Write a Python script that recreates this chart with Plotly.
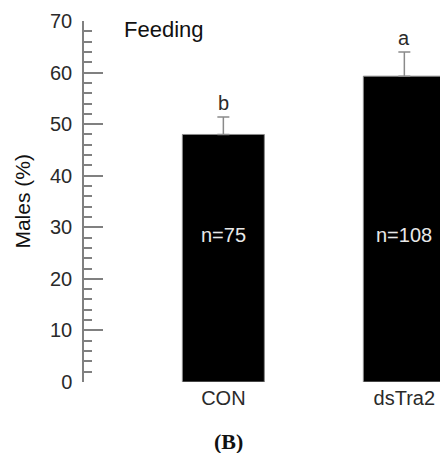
import plotly.graph_objects as go

categories = ["CON", "dsTra2"]
males_pct = [48.0, 59.3]
err_plus = [3.4, 4.7]
sig_letters = ["b", "a"]
n_labels = ["n=75", "n=108"]
y_ticks = [0, 10, 20, 30, 40, 50, 60, 70]

xpos = list(range(len(categories)))
tick_font = dict(family="Liberation Sans, Arial, sans-serif", size=20, color="#2a2a2a")

fig = go.Figure()
fig.add_trace(go.Bar(
    x=xpos, y=males_pct, width=0.453,
    marker=dict(color="black", line=dict(color="#8a8a8a", width=1)),
    error_y=dict(type="data", symmetric=False, array=err_plus,
                 arrayminus=[0] * len(err_plus), color="#8a8a8a",
                 thickness=1.5, width=6),
    showlegend=False,
))

annotations = []
for i, (v, e, s, n) in enumerate(zip(males_pct, err_plus, sig_letters, n_labels)):
    annotations.append(dict(x=i, y=v + e, text=s, showarrow=False, xref="x", yref="y",
                            yanchor="bottom", yshift=1, font=tick_font))
    annotations.append(dict(x=i, y=28.5, text=n, showarrow=False, xref="x", yref="y",
                            yanchor="middle", font=dict(family=tick_font["family"], size=20, color="#e8e8e8")))

annotations.append(dict(x=-0.56, y=68.3, text="Feeding", showarrow=False, xref="x", yref="y",
                        xanchor="left", yanchor="middle",
                        font=dict(family=tick_font["family"], size=22, color="#111111")))
annotations.append(dict(x=-0.174, y=0.5, text="Males (%)", showarrow=False, xref="paper", yref="paper",
                        xanchor="center", yanchor="middle", textangle=-90,
                        font=dict(family=tick_font["family"], size=21, color="#111111")))
annotations.append(dict(x=0.407, y=-0.164, text="<b>(B)</b>", showarrow=False, xref="paper", yref="paper",
                        xanchor="center", yanchor="middle",
                        font=dict(family="Liberation Serif, DejaVu Serif, serif", size=22, color="#111111")))

fig.update_layout(
    width=440, height=453,
    margin=dict(l=84, r=0, t=21, b=71, pad=0),
    paper_bgcolor="white", plot_bgcolor="white",
    annotations=annotations,
    xaxis=dict(range=[-0.770, 1.197], tickvals=xpos, ticktext=categories,
               showline=False, showgrid=False, zeroline=False, ticks="",
               tickfont=tick_font, fixedrange=True, ticklabelstandoff=2),
    yaxis=dict(range=[0, 70], tickvals=y_ticks, showline=True, linecolor="#808080", linewidth=1.5,
               ticks="inside", ticklen=19, tickwidth=1.5, tickcolor="#808080",
               showgrid=False, zeroline=False, tickfont=tick_font, ticklabelstandoff=6,
               minor=dict(dtick=2, ticks="inside", ticklen=8, tickwidth=1.5, tickcolor="#808080",
                          showgrid=False)),
)

fig.write_html("out.html", config={"displayModeBar": False})
with open("out.html", encoding="utf-8") as f:
    html = f.read()
html = html.replace("<head>", "<head><style>html,body{margin:0;padding:0;overflow:hidden;}</style>", 1)
with open("out.html", "w", encoding="utf-8") as f:
    f.write(html)
